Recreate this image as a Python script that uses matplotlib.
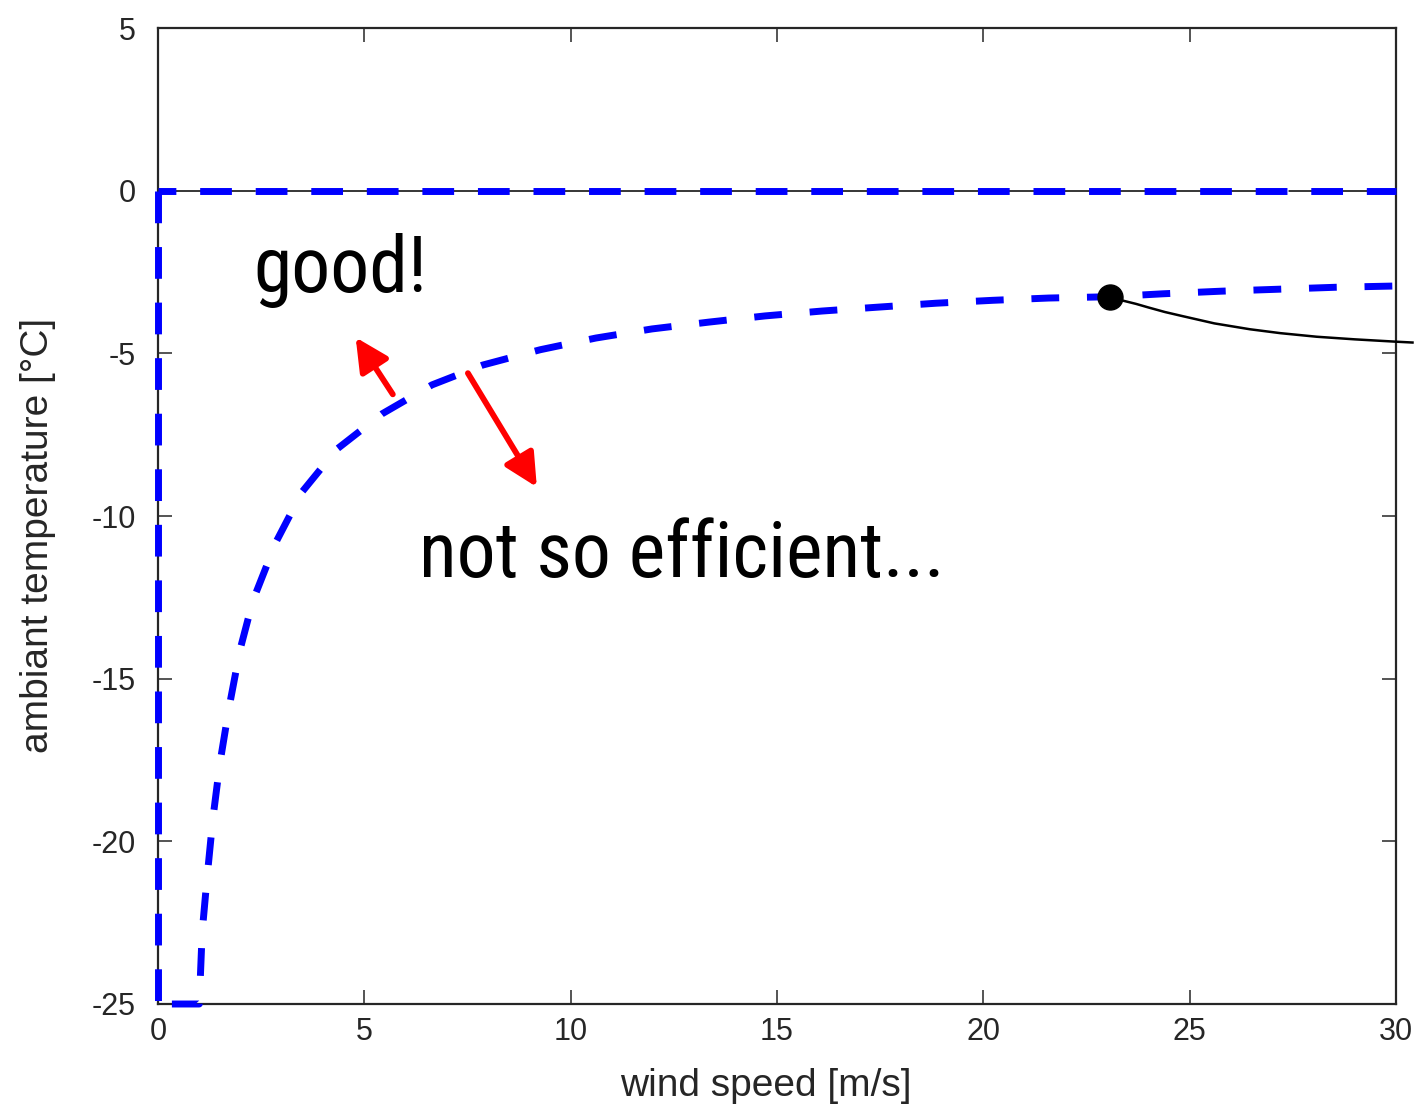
import matplotlib
matplotlib.use('Agg')
import matplotlib.pyplot as plt

# fonts: Arial-like for axes, narrow for the big remarks
plt.rcParams['font.family'] = ['Liberation Sans', 'DejaVu Sans']
plt.rcParams['axes.unicode_minus'] = False

# data
xticks = [0, 5, 10, 15, 20, 25, 30]
yticks = [-25, -20, -15, -10, -5, 0, 5]

# operating limits: wind speed from 0, temperature up to 0 degC, down to -25
box_x = [0, 30]
box_y = [0, 0]
left_x = [0, 0]
left_y = [0, -25]

# efficiency boundary (starts with the flat part at -25 below 1 m/s)
curve_x = [0.0, 1.0, 1.07, 1.19, 1.33, 1.50, 1.72, 1.99, 2.30, 2.86, 3.49, 4.34,
           5.43, 6.64, 7.87, 9.26, 10.61, 11.97, 13.35, 14.71, 16.09, 17.45,
           18.85, 20.23, 21.59, 23.07, 24.35, 25.76, 27.14, 28.52, 30.0]
curve_y = [-25.0, -25.0, -22.8, -21.1, -19.3, -17.6, -15.9, -14.1, -12.6, -10.8,
           -9.26, -7.94, -6.86, -5.97, -5.36, -4.89, -4.53, -4.25, -4.04, -3.85,
           -3.70, -3.58, -3.46, -3.37, -3.30, -3.26, -3.17, -3.09, -3.03, -2.97, -2.93]

# marked point and its leader line
dot_x = [23.07]
dot_y = [-3.28]
lead_x = [23.07, 23.35, 23.7, 24.0, 24.4, 24.84, 25.6, 26.46, 27.2, 28.08, 29.0, 29.97, 30.43]
lead_y = [-3.28, -3.37, -3.48, -3.59, -3.73, -3.86, -4.08, -4.26, -4.38, -4.49, -4.57, -4.64, -4.67]

# red arrows (tail -> head)
arrow_good = [(5.69, -6.26), (4.79, -4.51)]
arrow_bad = [(7.51, -5.61), (9.18, -9.11)]

grey = '#262626'

fig = plt.figure(figsize=(14.14, 11.11), dpi=100)
ax = fig.add_axes([158 / 1414, 107 / 1111, 1238 / 1414, 976 / 1111])

ax.axhline(0, color='k', lw=1.1, linestyle=(0, (64, 10)), zorder=2)

ax.plot(box_x, box_y, color='#0000ff', lw=5, linestyle=(10, (4.57, 3.43)),
        clip_on=False, zorder=3)
ax.plot(left_x, left_y, color='#0000ff', lw=5, linestyle=(0, (4.57, 3.43)),
        clip_on=False, zorder=3)
ax.plot(curve_x, curve_y, color='#0000ff', lw=5, linestyle=(6, (4.0, 4.0)),
        clip_on=False, zorder=3)

ax.plot(lead_x, lead_y, color='k', lw=1.8, clip_on=False, zorder=4,
        solid_capstyle='butt')
ax.plot(dot_x, dot_y, 'o', color='k', ms=18, zorder=5)

for (x0, y0), (x1, y1) in [arrow_good, arrow_bad]:
    ax.annotate('', xy=(x1, y1), xytext=(x0, y0),
                arrowprops=dict(arrowstyle='-|>,head_length=1.0,head_width=0.5',
                                mutation_scale=20, lw=4.2, color='#ff0000',
                                shrinkA=0, shrinkB=0), zorder=6)

narrow = ['Roboto Condensed', 'Archivo Narrow', 'Liberation Sans', 'DejaVu Sans']
ax.text(2.30, -3.11, 'good!', fontsize=56, family=narrow, ha='left', va='baseline')
ax.text(6.32, -11.88, 'not so efficient...', fontsize=56, family=narrow,
        ha='left', va='baseline')

ax.set_xlim(0, 30)
ax.set_ylim(-25, 5)
ax.set_xticks(xticks)
ax.set_yticks(yticks)
ax.tick_params(direction='in', top=True, right=True, length=10, width=1.1,
               color=grey, labelcolor=grey, labelsize=22)
ax.tick_params(axis='x', pad=9)
ax.tick_params(axis='y', pad=16)
for s in ax.spines.values():
    s.set_linewidth(1.6)
    s.set_color(grey)

ax.set_xlabel('wind speed [m/s]', fontsize=28, color=grey)
ax.set_ylabel('ambiant temperature [°C]', fontsize=28, color=grey)
ax.xaxis.set_label_coords(0.491, -0.066)
ax.yaxis.set_label_coords(-0.082, 0.48)

fig.savefig('out.png', dpi=100)
